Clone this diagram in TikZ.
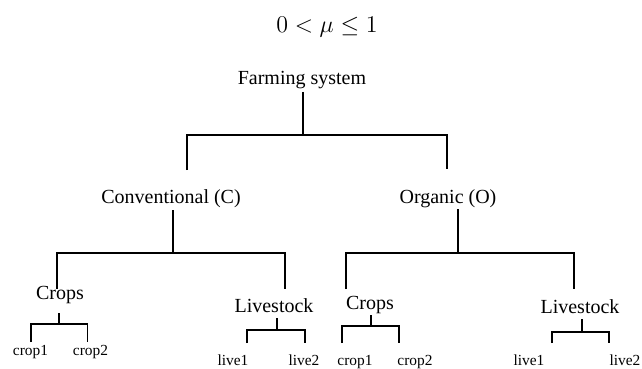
\documentclass[tikz,border=0pt]{standalone}
\usepackage{fontspec}
\setmainfont{Liberation Serif}
\usepackage{tikz}

\tikzset{
  lbl/.style={font=\fontsize{10}{12}\selectfont, inner sep=0pt, anchor=base},
  leaf/.style={font=\fontsize{7.7}{9}\selectfont, inner sep=0pt, anchor=base},
  link/.style={draw, line width=0.65pt}
}

\begin{document}
\begin{tikzpicture}[x=0.5pt, y=-0.5pt]
\useasboundingbox (0,0) rectangle (642,369);
% title
\node[font=\fontsize{12.5}{15}\selectfont, inner sep=0pt, anchor=base] (mu) at (327,33) {$0<\mu\leq 1$};
% levels
\node[lbl] (fs) at (302,85) {Farming system};
\node[lbl] (conv) at (171,203) {Conventional (C)};
\node[lbl] (org) at (448,203) {Organic (O)};
\node[lbl] (cropsC) at (60,299) {Crops};
\node[lbl] (liveC) at (274,312) {Livestock};
\node[lbl] (cropsO) at (370,309) {Crops};
\node[lbl] (liveO) at (580,313) {Livestock};
% leaves
\node[leaf] (c1C) at (30.5,355) {crop1};
\node[leaf] (c2C) at (90.5,355) {crop2};
\node[leaf] (l1C) at (233,365) {live1};
\node[leaf] (l2C) at (304,365) {live2};
\node[leaf] (c1O) at (355,365) {crop1};
\node[leaf] (c2O) at (415,365) {crop2};
\node[leaf] (l1O) at (529,365) {live1};
\node[leaf] (l2O) at (625,365) {live2};
% junctions
\coordinate (jfs) at (303,135);
\coordinate (jconv) at (173,253);
\coordinate (jorg) at (458,253);
\coordinate (jcropsC) at (59,324);
\coordinate (jliveC) at (277,330);
\coordinate (jcropsO) at (371,326);
\coordinate (jliveO) at (582,332);
% connectors
\draw[link] ([shift={(1,7)}]fs.base) -- (jfs);
\draw[link] ([shift={(16,-33)}]conv.base) |- (jfs) -| ([shift={(-1,-34)}]org.base);
\draw[link] ([shift={(2,7)}]conv.base) -- (jconv);
\draw[link] ([shift={(-3,-10)}]cropsC.base) |- (jconv) -| ([shift={(11,-23)}]liveC.base);
\draw[link] ([shift={(10,6)}]org.base) -- (jorg);
\draw[link] ([shift={(-24,-20)}]cropsO.base) |- (jorg) -| ([shift={(-6,-24)}]liveO.base);
\draw[link] ([shift={(-1,14)}]cropsC.base) -- (jcropsC);
\draw[link] ([shift={(0.5,-13)}]c1C.base) |- (jcropsC) -| ([shift={(-3,-13)}]c2C.base);
\draw[link] ([shift={(3,6)}]liveC.base) -- (jliveC);
\draw[link] ([shift={(14,-22)}]l1C.base) |- (jliveC) -| ([shift={(1,-22)}]l2C.base);
\draw[link] ([shift={(1,6)}]cropsO.base) -- (jcropsO);
\draw[link] ([shift={(-13,-22)}]c1O.base) |- (jcropsO) -| ([shift={(-16,-22)}]c2O.base);
\draw[link] ([shift={(2,6)}]liveO.base) -- (jliveO);
\draw[link] ([shift={(23,-22)}]l1O.base) |- (jliveO) -| ([shift={(-16,-22)}]l2O.base);
\end{tikzpicture}
\end{document}
